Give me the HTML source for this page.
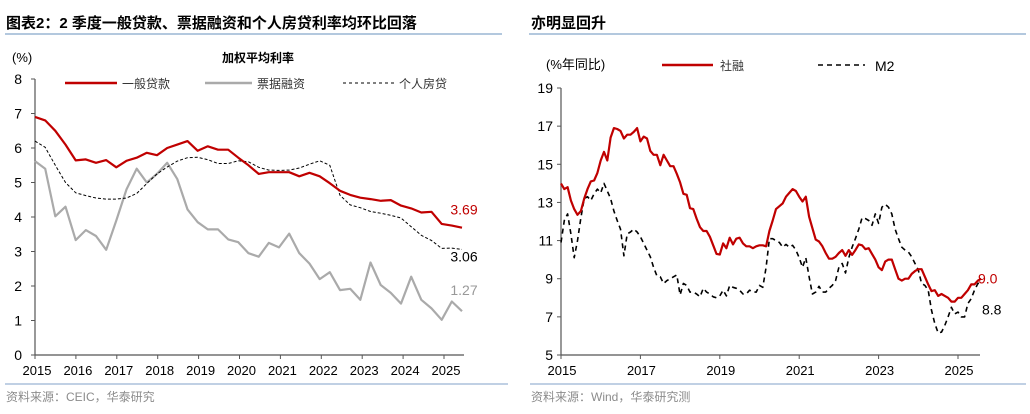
<!DOCTYPE html>
<html><head><meta charset="utf-8"><style>
body{margin:0;width:1030px;height:409px;background:#fff;overflow:hidden;font-family:"Liberation Sans","Noto Sans CJK SC",sans-serif}
svg text{font-family:"Liberation Sans","Noto Sans CJK SC",sans-serif}
</style></head><body>
<svg width="1030" height="409" viewBox="0 0 1030 409">
<text x="6" y="28" font-size="15" font-weight="bold" fill="#000">图表2：2 季度一般贷款、票据融资和个人房贷利率均环比回落</text>
<line x1="5" y1="34" x2="502" y2="34" stroke="#9ab5d3" stroke-width="1.5"/>
<text x="531" y="28" font-size="15" font-weight="bold" fill="#000">亦明显回升</text>
<line x1="529" y1="34" x2="1026" y2="34" stroke="#9ab5d3" stroke-width="1.5"/>
<line x1="5" y1="384" x2="508" y2="384" stroke="#9ab5d3" stroke-width="1.2"/>
<line x1="530" y1="384" x2="1026" y2="384" stroke="#9ab5d3" stroke-width="1.2"/>
<text x="6" y="401" font-size="12" fill="#8c8c8c">资料来源：CEIC，华泰研究</text>
<text x="531" y="401" font-size="12" fill="#8c8c8c">资料来源：Wind，华泰研究测</text>

<text x="12" y="62" font-size="13" fill="#000">(%)</text>
<text x="222" y="62" font-size="12" font-weight="bold" fill="#000">加权平均利率</text>
<g>
<line x1="65" y1="83" x2="117" y2="83" stroke="#c00000" stroke-width="2.5"/>
<text x="122" y="88" font-size="12" fill="#333">一般贷款</text>
<line x1="205" y1="83" x2="252" y2="83" stroke="#aaa" stroke-width="2.5"/>
<text x="257" y="88" font-size="12" fill="#333">票据融资</text>
<line x1="343" y1="83" x2="395" y2="83" stroke="#000" stroke-width="1" stroke-dasharray="3,3"/>
<text x="399" y="88" font-size="12" fill="#333">个人房贷</text>
</g>
<g id="left"></g>

<text x="546" y="69" font-size="13" fill="#000">(%年同比)</text>
<g>
<line x1="662" y1="65" x2="713" y2="65" stroke="#c00000" stroke-width="2.5"/>
<text x="720" y="70" font-size="12" fill="#333">社融</text>
<line x1="818" y1="65" x2="865" y2="65" stroke="#000" stroke-width="1.5" stroke-dasharray="5,4"/>
<text x="875" y="71" font-size="14" fill="#000">M2</text>
</g>
<g id="right"></g>
</svg>
<script>
// Left chart data (quarterly)
const loanRate=[6.9,6.8,6.5,6.1,5.64,5.67,5.57,5.65,5.44,5.63,5.72,5.86,5.79,6.0,6.1,6.2,5.92,6.05,5.95,5.95,5.72,5.5,5.25,5.3,5.3,5.3,5.18,5.28,5.18,4.98,4.76,4.64,4.56,4.52,4.47,4.49,4.33,4.25,4.13,4.15,3.8,3.75,3.69];
const billRate=[5.62,5.4,4.02,4.3,3.33,3.62,3.45,3.05,3.9,4.8,5.4,5.0,5.25,5.57,5.1,4.22,3.85,3.64,3.64,3.35,3.27,2.95,2.85,3.25,3.12,3.52,2.95,2.65,2.2,2.4,1.88,1.92,1.6,2.68,2.03,1.8,1.49,2.27,1.6,1.35,1.02,1.55,1.27];
const mortgageRate=[6.2,6.02,5.5,5.0,4.7,4.62,4.55,4.52,4.52,4.55,4.68,4.97,5.25,5.45,5.62,5.72,5.73,5.66,5.55,5.55,5.63,5.6,5.44,5.36,5.35,5.36,5.42,5.53,5.63,5.5,4.63,4.35,4.27,4.16,4.11,4.05,3.97,3.72,3.47,3.32,3.09,3.1,3.06];
const leftYTicks=[0,1,2,3,4,5,6,7,8];
const leftXTicks=[2015,2016,2017,2018,2019,2020,2021,2022,2023,2024,2025];
// Right chart data (monthly, 2015-01 .. 2025-06)
const tsf=[13.99,13.7,13.8,13.1,12.65,12.35,12.55,13.2,13.7,14.1,14.15,14.55,15.2,15.65,15.2,16.4,16.9,16.85,16.75,16.35,16.55,16.55,16.7,16.9,16.2,16.45,16.35,15.7,15.5,15.5,14.95,15.5,15.2,14.9,14.9,14.5,14.05,13.45,13.4,12.7,12.65,12.15,11.7,11.5,11.5,11.2,10.75,10.3,10.27,10.85,10.6,11.15,10.8,11.1,11.15,10.85,10.7,10.7,10.6,10.7,10.75,10.75,10.7,11.5,12.05,12.65,12.8,12.95,13.3,13.5,13.7,13.6,13.3,13.05,13.3,12.25,11.65,11.05,10.95,10.7,10.35,10.05,10.05,10.15,10.35,10.5,10.2,10.5,10.25,10.5,10.8,10.75,10.55,10.6,10.3,10.0,9.6,9.45,9.9,10.0,10.0,9.5,9.0,8.9,9.0,9.0,9.25,9.4,9.5,9.5,9.1,8.7,8.35,8.4,8.1,8.2,8.1,8.0,7.8,7.8,8.0,8.0,8.2,8.4,8.7,8.7,8.9,9.0];
const m2=[10.9,12.05,12.4,11.35,10.1,11.0,12.2,13.2,13.3,13.1,13.45,13.7,13.5,14.0,13.6,13.2,12.55,12.05,11.6,10.2,11.35,11.45,11.6,11.45,11.2,10.85,10.5,10.15,9.6,9.15,9.1,8.75,8.9,9.0,9.1,9.2,8.15,8.75,8.65,8.3,8.3,8.2,8.05,8.5,8.3,8.2,8.05,8.0,8.1,8.4,8.1,8.65,8.55,8.5,8.4,8.2,8.2,8.4,8.3,8.3,8.65,8.55,9.6,11.1,11.1,11.0,10.9,10.65,10.8,10.65,10.75,10.5,10.1,9.6,10.1,9.1,8.2,8.3,8.6,8.3,8.3,8.5,8.65,8.9,9.6,9.8,9.3,10.1,10.65,11.1,11.6,12.2,12.15,12.05,11.8,12.4,11.9,12.75,12.9,12.75,12.4,11.6,11.1,10.65,10.5,10.4,10.15,9.8,9.45,8.75,8.65,8.4,7.35,6.65,6.15,6.2,6.55,7.0,7.5,7.15,7.25,7.0,7.0,7.7,7.95,8.4,8.75,8.8];
const rightYTicks=[5,7,9,11,13,15,17,19];
const rightXTicks=[2015,2017,2019,2021,2023,2025];

const NS='http://www.w3.org/2000/svg';
function mk(parent,tag,attrs){const e=document.createElementNS(NS,tag);for(const k in attrs)e.setAttribute(k,attrs[k]);parent.appendChild(e);return e;}

// Left
(function(){
const g=document.getElementById('left');
const x0=35,x1=464,y0=355,yTop=79;
const ly=v=>y0-(v/8)*(y0-yTop);
const lxYear=yr=>x0+(yr-2015)*40.9;
const lxIdx=i=>x0+i*(x1-2-x0)/(loanRate.length-1);
const ax=mk(g,'path',{d:`M${x0} ${yTop}V${y0}H${x1}`,stroke:'#555',fill:'none','stroke-width':1.2});


leftYTicks.forEach(v=>{
 const y=ly(v);
 mk(g,'line',{x1:x0-4,y1:y,x2:x0,y2:y,stroke:'#555'});
 const t=mk(g,'text',{x:22,y:y+5,'font-size':14,'text-anchor':'end',fill:'#000'});t.textContent=v;
 
 
});
leftXTicks.forEach(yr=>{
 const x=lxYear(yr);
 mk(g,'line',{x1:x,y1:y0,x2:x,y2:y0+4,stroke:'#555'});
 const t=mk(g,'text',{x:x+2,y:375,'font-size':13,'text-anchor':'middle',fill:'#000'});t.textContent=yr;
 
 
});
function line(arr,stroke,w,dash,name){
 const p=mk(g,'polyline',{points:arr.map((v,i)=>lxIdx(i).toFixed(1)+','+ly(v).toFixed(1)).join(' '),fill:'none',stroke:stroke,'stroke-width':w,'stroke-linejoin':'round'});
 if(dash)p.setAttribute('stroke-dasharray',dash);
 
 
}
line(billRate,'#aaa',2.2,null,'bill-financing-line');
line(mortgageRate,'#000',1,'3,2','mortgage-line');
line(loanRate,'#c00000',2.2,null,'general-loan-line');
function lab(txt,v,dy,color,name){const t=mk(g,'text',{x:464,y:ly(v)+dy,'font-size':14,'text-anchor':'middle',fill:color});t.textContent=txt;
 
 }
lab(loanRate[loanRate.length-1].toFixed(2),loanRate[loanRate.length-1],-13,'#c00000','loan-end-label');
lab(mortgageRate[mortgageRate.length-1].toFixed(2),mortgageRate[mortgageRate.length-1],12,'#000','mortgage-end-label');
lab(billRate[billRate.length-1].toFixed(2),billRate[billRate.length-1],-16,'#999','bill-end-label');
})();

// Right
(function(){
const g=document.getElementById('right');
const x0=561,x1=980,y0=355,yTop=88;
const ry=v=>y0-((v-5)/14)*(y0-yTop);
const rxYear=yr=>x0+(yr-2015)*39.7;
const rxIdx=i=>x0+i*39.7/12;
mk(g,'path',{d:`M${x0} ${yTop}V${y0}H${x1}`,stroke:'#555',fill:'none','stroke-width':1.2});
rightYTicks.forEach(v=>{
 const y=ry(v);
 mk(g,'line',{x1:x0-4,y1:y,x2:x0,y2:y,stroke:'#555'});
 const t=mk(g,'text',{x:553,y:y+5,'font-size':14,'text-anchor':'end',fill:'#000'});t.textContent=v;
 
 
});
rightXTicks.forEach(yr=>{
 const x=rxYear(yr);
 mk(g,'line',{x1:x,y1:y0,x2:x,y2:y0+4,stroke:'#555'});
 const t=mk(g,'text',{x:x+1,y:375,'font-size':13,'text-anchor':'middle',fill:'#000'});t.textContent=yr;
 
 
});
function line(arr,stroke,w,dash,name){
 const p=mk(g,'polyline',{points:arr.map((v,i)=>rxIdx(i).toFixed(1)+','+ry(v).toFixed(1)).join(' '),fill:'none',stroke:stroke,'stroke-width':w,'stroke-linejoin':'round'});
 if(dash)p.setAttribute('stroke-dasharray',dash);
 
 
}
line(m2,'#000',1.6,'5,4','m2-line');
line(tsf,'#c00000',2.2,null,'tsf-line');
const lt=tsf[tsf.length-1],lm=m2[m2.length-1];
const t1=mk(g,'text',{x:978,y:ry(lt)+5,'font-size':14,fill:'#c00000'});t1.textContent=lt.toFixed(1);


const t2=mk(g,'text',{x:982,y:ry(lm)+32,'font-size':14,fill:'#000'});t2.textContent=lm.toFixed(1);


})();
</script>
</body></html>
